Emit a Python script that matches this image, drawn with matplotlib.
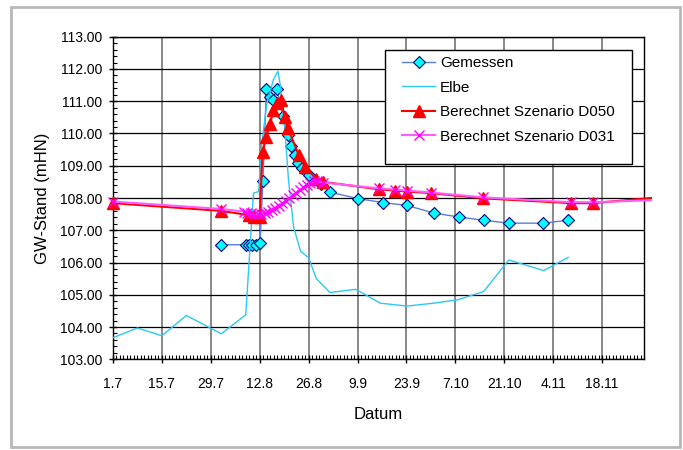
import matplotlib
matplotlib.use("Agg")
import matplotlib.pyplot as plt
from matplotlib.ticker import MultipleLocator, FixedLocator, FormatStrFormatter
from matplotlib.patches import Rectangle

plt.rcParams['font.family'] = ['Liberation Sans', 'DejaVu Sans']

# x positions are days counted from 1 July
tick_days = [0, 14, 28, 42, 56, 70, 84, 98, 112, 126, 140]
tick_labels = ['1.7', '15.7', '29.7', '12.8', '26.8', '9.9', '23.9',
               '7.10', '21.10', '4.11', '18.11']

gemessen_days = [31, 38, 39, 39.9, 40.9, 42.1, 42.9, 43.9, 44.8, 45.7, 46.9,
                 48.6, 50.0, 51.0, 52.0, 53.0, 54.0, 56.0, 59.5, 62.1, 70.2,
                 77.2, 84.1, 92.0, 99.1, 106.1, 113.3, 123.2, 130.2]
gemessen = [106.55, 106.55, 106.55, 106.55, 106.55, 106.6, 108.52, 111.37,
            111.12, 111.04, 111.37, 110.55, 109.95, 109.6, 109.33, 109.07,
            108.92, 108.7, 108.42, 108.18, 107.98, 107.86, 107.77, 107.53,
            107.41, 107.31, 107.22, 107.22, 107.31]

elbe_days = [0, 7, 14, 21, 31, 38, 40.2, 41.7, 42.6, 44.0, 45.9, 47.2, 47.9,
             49.3, 50.2, 51.7, 53.7, 56.0, 58.2, 62.1, 69.5, 76.5, 84.2, 91.8,
             98.5, 106.1, 113.3, 123.3, 130.3]
elbe = [103.67, 103.97, 103.73, 104.36, 103.79, 104.38, 108.15, 108.2, 109.7,
        110.9, 111.66, 111.93, 111.5, 110.0, 108.6, 107.1, 106.35, 106.15,
        105.5, 105.07, 105.17, 104.74, 104.65, 104.74, 104.84, 105.1, 106.08,
        105.75, 106.16]

d050_days = [0, 31, 38.8, 40.4, 42.0, 42.8, 43.9, 45.0, 45.9, 46.9, 48.0,
             49.2, 50.1, 53.2, 55.0, 58.2, 60.1, 76.0, 80.8, 84.2, 91.1,
             105.9, 131.1, 137.3, 154]
d050 = [107.84, 107.6, 107.47, 107.42, 107.4, 109.44, 109.88, 110.3, 110.73,
        110.95, 111.04, 110.5, 110.16, 109.32, 108.95, 108.6, 108.5, 108.27,
        108.23, 108.2, 108.15, 107.99, 107.84, 107.84, 108.0]

d031_days = [0, 31, 37.5, 38.5, 39.5, 40.5, 41.5, 42.5, 43.5, 44.5, 45.5,
             46.5, 47.5, 48.5, 49.5, 50.5, 51.5, 52.5, 53.5, 54.5, 55.5, 56.5,
             57.5, 58.5, 60.1, 76.0, 80.8, 84.2, 91.1, 105.9, 131.1, 137.3, 154]
d031 = [107.89, 107.66, 107.58, 107.55, 107.52, 107.5, 107.49, 107.5, 107.53,
        107.57, 107.62, 107.68, 107.75, 107.83, 107.91, 107.99, 108.08, 108.17,
        108.26, 108.34, 108.41, 108.47, 108.52, 108.52, 108.48, 108.3, 108.26,
        108.23, 108.17, 108.02, 107.87, 107.87, 107.93]

fig = plt.figure(figsize=(6.83, 4.5), dpi=100)
fig.patches.append(Rectangle((11 / 683, 3 / 450), 669 / 683, 440 / 450,
                             transform=fig.transFigure, fill=False,
                             edgecolor='#b8b8b8', linewidth=2.0))
ax = fig.add_axes([113 / 683, 1 - 359.3 / 450, 531 / 683, 322.6 / 450])

ax.plot(gemessen_days, gemessen, color='#5a7be0', lw=1.0, marker='D', ms=5.8,
        mfc='#00ffff', mec='#000080', mew=0.8, label='Gemessen', zorder=3)
ax.plot(elbe_days, elbe, color='#2cc8f5', lw=1.0, label='Elbe', zorder=3)
ax.plot(d050_days, d050, color='#ff0000', lw=1.5, marker='^', ms=8.5,
        mfc='#ff0000', mec='#ff0000', markevery=list(range(len(d050) - 1)),
        label='Berechnet Szenario D050', zorder=4, clip_on=False)
ax.plot(d031_days, d031, color='#ff5cff', lw=1.5, marker='x', ms=7,
        mec='#ff00ff', mew=1.0, markevery=list(range(len(d031) - 1)),
        label='Berechnet Szenario D031', zorder=5, clip_on=False)

ax.set_xlim(0, 152)
ax.set_ylim(103, 113)

ax.xaxis.set_major_locator(FixedLocator(tick_days))
ax.set_xticklabels(tick_labels)
ax.xaxis.set_minor_locator(MultipleLocator(1))
ax.yaxis.set_major_locator(MultipleLocator(1))
ax.yaxis.set_minor_locator(MultipleLocator(0.2))
ax.yaxis.set_major_formatter(FormatStrFormatter('%.2f'))

ax.tick_params(axis='x', which='major', direction='inout', length=6,
               width=1, pad=10, labelsize=10)
ax.tick_params(axis='y', which='major', direction='inout', length=6,
               width=1, pad=5, labelsize=10)
ax.tick_params(which='minor', direction='in', length=3, width=0.8)

ax.set_axisbelow(True)
ax.yaxis.grid(True, which='major', color='black', lw=0.9)
ax.xaxis.grid(True, which='major', color='#808080', lw=1.3)
for s in ax.spines.values():
    s.set_color('black')
    s.set_linewidth(1.0)

ax.set_xlabel('Datum', fontsize=12, labelpad=11)
ax.set_ylabel('GW-Stand (mHN)', fontsize=12, labelpad=7)

# legend: white framed box with the entries placed inside
ax.add_patch(Rectangle((0.5122, 0.6054), 0.4657, 0.3534,
                       transform=ax.transAxes, facecolor='white',
                       edgecolor='black', linewidth=1.0, zorder=6,
                       clip_on=False))
leg = ax.legend(loc='upper left', bbox_to_anchor=(0.5437, 0.9396),
                borderaxespad=0, borderpad=0, frameon=False, fontsize=11,
                handlelength=2.2, handletextpad=0.3, labelspacing=0.69)
leg.set_zorder(7)

fig.savefig('out.png', dpi=100)
